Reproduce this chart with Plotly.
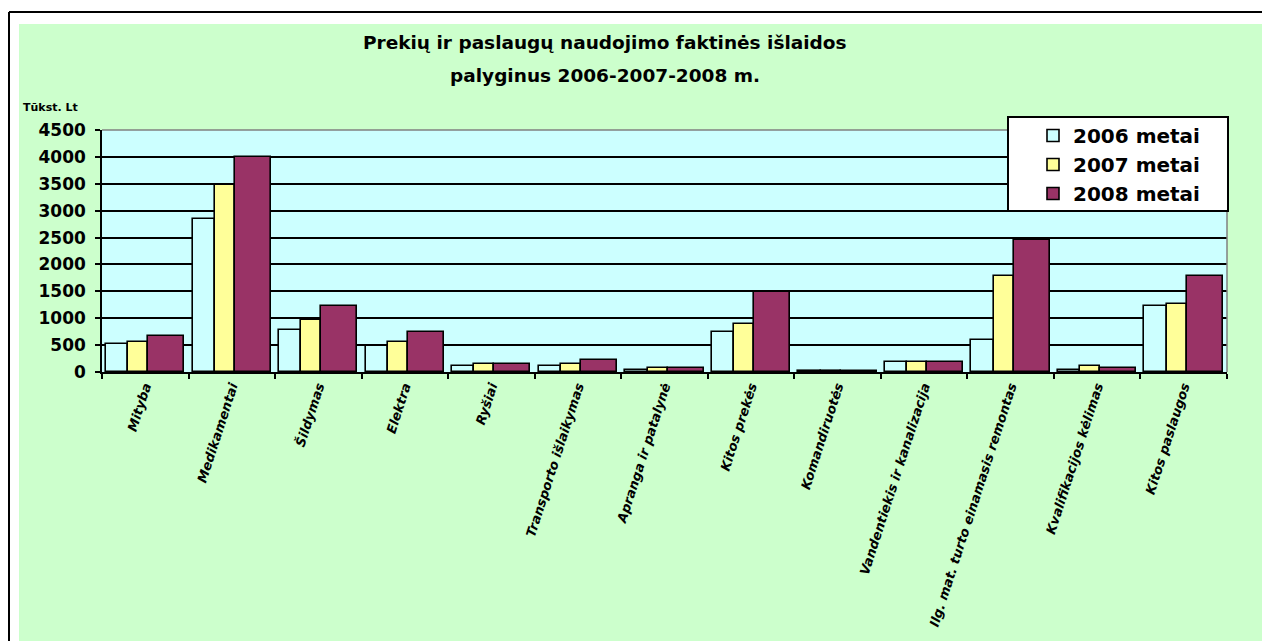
import plotly.graph_objects as go

categories = [
    'Mityba', 'Medikamentai', 'Šildymas', 'Elektra', 'Ryšiai',
    'Transporto išlaikymas', 'Apranga ir patalynė', 'Kitos prekės',
    'Komandiruotės', 'Vandentiekis ir kanalizacija',
    'Ilg. mat. turto einamasis remontas', 'Kvalifikacijos kėlimas',
    'Kitos paslaugos',
]
y2006 = [520, 2850, 780, 480, 110, 110, 35, 745, 25, 180, 600, 30, 1225]
y2007 = [560, 3480, 960, 560, 140, 145, 75, 895, 20, 185, 1780, 110, 1265]
y2008 = [670, 4000, 1220, 745, 140, 225, 70, 1485, 20, 185, 2450, 75, 1790]
series_names = ['2006 metai', '2007 metai', '2008 metai']

# page body has an 8px margin, so the figure is drawn 8px in from the top-left
OFF = 8
W, H = 1270 - OFF, 641 - OFF
L, R, T, B = 102 - OFF, 43, 130 - OFF, 269
PW, PH = W - L - R, H - T - B


def px(x):
    # page pixel -> paper x
    return (x - OFF - L) / PW


def py(y):
    # page pixel -> paper y
    return (H - B - (y - OFF)) / PH


bold = dict(family='DejaVu Sans', color='black', weight='bold')

fig = go.Figure()
# colour, offset, width (category units)
styles = [('#CCFFFF', -0.454, 0.258), ('#FFFF99', -0.196, 0.231), ('#993366', 0.035, 0.416)]
for name, vals, (col, off, wd) in zip(series_names, [y2006, y2007, y2008], styles):
    fig.add_trace(go.Bar(
        x=categories, y=vals, name=name,
        marker=dict(color=col, line=dict(color='black', width=1.6)),
        offset=off, width=wd,
    ))

shapes = [
    # white page margins + frame
    dict(type='rect', xref='paper', yref='paper', x0=px(0), x1=px(1280), y0=py(0), y1=py(24),
         fillcolor='white', line_width=0, layer='below'),
    dict(type='rect', xref='paper', yref='paper', x0=px(0), x1=px(19), y0=py(0), y1=py(650),
         fillcolor='white', line_width=0, layer='below'),
    dict(type='line', xref='paper', yref='paper', x0=px(9), x1=px(1280), y0=py(12), y1=py(12),
         line=dict(color='black', width=2)),
    dict(type='line', xref='paper', yref='paper', x0=px(9), x1=px(9), y0=py(12), y1=py(650),
         line=dict(color='black', width=2)),
    # grey top/right plot border
    dict(type='line', xref='paper', yref='paper', x0=0, x1=1, y0=1, y1=1,
         line=dict(color='#808080', width=1.5)),
    dict(type='line', xref='paper', yref='paper', x0=1, x1=1, y0=0, y1=1,
         line=dict(color='#808080', width=1.5)),
    # legend box
    dict(type='rect', xref='paper', yref='paper', x0=px(1008), x1=px(1228), y0=py(211), y1=py(117),
         fillcolor='white', line=dict(color='black', width=2)),
]

annotations = [
    dict(text='Prekių ir paslaugų naudojimo faktinės išlaidos', xref='paper', yref='paper',
         x=px(605), y=py(42), xanchor='center', yanchor='middle', showarrow=False,
         font=dict(bold, size=18.5)),
    dict(text='palyginus 2006-2007-2008 m.', xref='paper', yref='paper',
         x=px(605), y=py(75), xanchor='center', yanchor='middle', showarrow=False,
         font=dict(bold, size=18.5)),
    dict(text='Tūkst. Lt', xref='paper', yref='paper',
         x=px(21), y=py(107), xanchor='left', yanchor='middle', showarrow=False,
         font=dict(bold, size=11)),
]

fig.update_layout(
    width=W, height=H,
    margin=dict(l=L, r=R, t=T, b=B),
    paper_bgcolor='#CCFFCC', plot_bgcolor='#CCFFFF',
    barmode='overlay', bargap=0,
    showlegend=True,
    legend=dict(x=px(1033), y=py(116), xanchor='left', yanchor='top',
                bgcolor='rgba(0,0,0,0)', borderwidth=0,
                font=dict(bold, size=20), itemclick=False),
    shapes=shapes, annotations=annotations,
)
fig.update_xaxes(
    showline=True, linecolor='black', linewidth=1.5,
    ticks='outside', tickson='boundaries', ticklen=5, tickcolor='black', tickwidth=1.5,
    tickangle=-72, tickfont=dict(bold, size=13, style='italic'),
    showgrid=False,
)
fig.update_yaxes(
    range=[0, 4500], dtick=500,
    showline=True, linecolor='black', linewidth=1.5,
    ticks='outside', ticklen=5, tickcolor='black', tickwidth=1.5,
    tickfont=dict(bold, size=17), ticklabelstandoff=6,
    showgrid=True, gridcolor='black', gridwidth=1.5, zeroline=False,
)

fig.write_html('out.html')
